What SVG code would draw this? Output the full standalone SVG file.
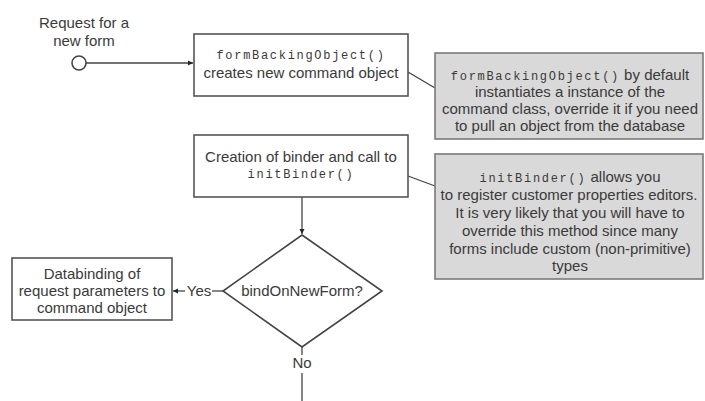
<svg xmlns="http://www.w3.org/2000/svg" width="705" height="401" viewBox="0 0 705 401">
  <style>
    .txt { font-family: "Liberation Sans", Arial, sans-serif; font-size: 15px; fill: #3a3a3a; text-anchor: middle; }
    .code { font-family: "Liberation Mono", "Courier New", monospace; font-size: 12px; letter-spacing: 1.7px; fill: #3a3a3a; }
    .box { fill: #ffffff; stroke: #555555; stroke-width: 1.6; }
    .note { fill: #d9d9d9; stroke: #7a7a7a; stroke-width: 1.6; }
    .line { fill: none; stroke: #444444; stroke-width: 1.3; }
  </style>
  <defs>
    <marker id="arrow" markerWidth="6" markerHeight="6" refX="5" refY="3" orient="auto" markerUnits="userSpaceOnUse">
      <path d="M0,0.5 L5,3 L0,5.5 Z" fill="#222222"/>
    </marker>
  </defs>
  <rect width="705" height="401" fill="#ffffff"/>

  <!-- connectors -->
  <g id="connectors">
    <line class="line" x1="86" y1="63" x2="193" y2="63" marker-end="url(#arrow)"/>
    <line class="line" x1="408" y1="72" x2="435" y2="88"/>
    <line class="line" x1="408" y1="176" x2="435" y2="186"/>
    <line class="line" x1="302" y1="197" x2="302" y2="234" marker-end="url(#arrow)"/>
    <line class="line" x1="223" y1="291" x2="212" y2="291"/>
    <line class="line" x1="185" y1="291" x2="173" y2="291" marker-end="url(#arrow)"/>
    <line class="line" x1="302" y1="347" x2="302" y2="355"/>
    <line class="line" x1="302" y1="373" x2="302" y2="401"/>
    <text class="txt" x="199" y="296">Yes</text>
    <text class="txt" x="302" y="368">No</text>
  </g>

  <!-- start -->
  <g id="start">
    <text class="txt" x="84" y="28">Request for a</text>
    <text class="txt" x="84" y="46">new form</text>
    <circle cx="79" cy="63" r="7" fill="#ffffff" stroke="#444444" stroke-width="1.6"/>
  </g>

  <!-- formBackingObject step -->
  <g id="create-command">
    <rect class="box" x="194" y="34" width="214" height="62"/>
    <text class="code" x="301" y="59" text-anchor="middle">formBackingObject()</text>
    <text class="txt" x="301" y="78">creates new command object</text>
  </g>

  <g id="note-form-backing">
    <rect class="note" x="435" y="53" width="268" height="86"/>
    <text class="txt" x="570" y="80"><tspan class="code">formBackingObject()</tspan> by default</text>
    <text class="txt" x="570" y="97">instantiates a instance of the</text>
    <text class="txt" x="570" y="114">command class, override it if you need</text>
    <text class="txt" x="570" y="131">to pull an object from the database</text>
  </g>

  <!-- binder step -->
  <g id="init-binder">
    <rect class="box" x="194" y="135" width="214" height="62"/>
    <text class="txt" x="301" y="162">Creation of binder and call to</text>
    <text class="code" x="301" y="178" text-anchor="middle">initBinder()</text>
  </g>

  <g id="note-init-binder">
    <rect class="note" x="435" y="154" width="268" height="125"/>
    <text class="txt" x="570" y="182"><tspan class="code">initBinder()</tspan> allows you</text>
    <text class="txt" x="569" y="200">to register customer properties editors.</text>
    <text class="txt" x="570" y="218">It is very likely that you will have to</text>
    <text class="txt" x="570" y="236">override this method since many</text>
    <text class="txt" x="570" y="254">forms include custom (non-primitive)</text>
    <text class="txt" x="570" y="271">types</text>
  </g>

  <!-- decision -->
  <g id="decision">
    <polygon points="302,235 382,291 302,347 223,291" fill="#ffffff" stroke="#444444" stroke-width="1.6"/>
    <text class="txt" x="302" y="296">bindOnNewForm?</text>
  </g>

  <!-- databinding step -->
  <g id="databinding">
    <rect class="box" x="12" y="258" width="160" height="62"/>
    <text class="txt" x="92" y="279">Databinding of</text>
    <text class="txt" x="92" y="296">request parameters to</text>
    <text class="txt" x="92" y="313">command object</text>
  </g>
</svg>
